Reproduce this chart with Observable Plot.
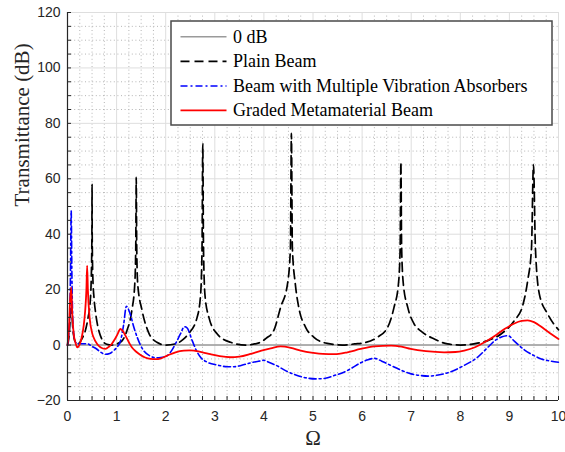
<!DOCTYPE html>
<html>
<head>
<meta charset="utf-8">
<script src="https://cdn.jsdelivr.net/npm/d3@7"></script>
<script src="https://cdn.jsdelivr.net/npm/@observablehq/plot@0.6"></script>
<style>
  html, body { margin: 0; padding: 0; background: white; }
  #chart { width: 565px; height: 452px; }
</style>
</head>
<body>
<div id="chart"></div>
<script>
// ---- Data ----
const xTicks = [0, 1, 2, 3, 4, 5, 6, 7, 8, 9, 10];
const yTicks = [-20, 0, 20, 40, 60, 80, 100, 120];
const seriesNames = ["0 dB", "Plain Beam", "Beam with Multiple Vibration Absorbers", "Graded Metamaterial Beam"];

const zeroOmega = [0, 10];
const zeroDb = [0, 0];

const plainOmega = [0, 0.03, 0.06, 0.075, 0.09, 0.12, 0.17, 0.22, 0.3, 0.36, 0.42, 0.46, 0.485, 0.497, 0.5, 0.503, 0.515, 0.54, 0.567, 0.62, 0.67, 0.73, 0.8, 0.9, 1.0, 1.11, 1.21, 1.31, 1.37, 1.39, 1.4, 1.41, 1.43, 1.52, 1.65, 1.82, 2.0, 2.23, 2.35, 2.47, 2.64, 2.71, 2.74, 2.755, 2.77, 2.8, 2.88, 3.05, 3.32, 3.63, 3.9, 4.05, 4.2, 4.34, 4.48, 4.54, 4.56, 4.58, 4.64, 4.71, 4.85, 5.02, 5.29, 5.6, 5.85, 6.04, 6.31, 6.52, 6.65, 6.74, 6.775, 6.79, 6.805, 6.84, 6.93, 7.06, 7.2, 7.47, 7.74, 8.01, 8.3, 8.56, 8.83, 9.1, 9.27, 9.37, 9.45, 9.49, 9.53, 9.61, 9.78, 10];
const plainDb = [0, 3, 12, 20, 12, 4, 0.8, 0.5, 2.5, 5, 10, 15, 25, 40, 58, 40, 25, 17, 12.4, 6.5, 3.4, 1.2, 0.3, 0, 0.4, 1.5, 5.2, 12.4, 22, 35, 60.5, 35, 22, 12.4, 4.6, 1, 0, 0.6, 2, 4.2, 10, 18, 35, 72.6, 35, 18, 10, 4, 1, 0, 0.8, 2.5, 5.2, 13.6, 22, 35, 76.4, 35, 22, 13.6, 6.4, 2.8, 0.6, 0, 0.4, 0.8, 2.8, 6.4, 13.6, 22, 35, 66, 35, 22, 13.6, 7.6, 5, 2.2, 0.4, 0, 0.5, 1.6, 4, 8.8, 14.2, 23, 35, 65, 35, 18.4, 11.2, 5.5];

const absorberOmega = [0, 0.04, 0.06, 0.075, 0.09, 0.11, 0.15, 0.2, 0.3, 0.4, 0.5, 0.6, 0.67, 0.77, 0.86, 0.94, 1.02, 1.08, 1.14, 1.2, 1.28, 1.35, 1.42, 1.55, 1.69, 1.8, 1.9, 2.03, 2.12, 2.2, 2.3, 2.38, 2.43, 2.54, 2.62, 2.71, 2.85, 3.05, 3.25, 3.39, 3.55, 3.73, 3.9, 4.0, 4.1, 4.27, 4.45, 4.65, 4.85, 5.05, 5.25, 5.43, 5.63, 5.8, 5.97, 6.1, 6.25, 6.4, 6.59, 6.8, 7.0, 7.2, 7.34, 7.55, 7.81, 8.05, 8.35, 8.55, 8.69, 8.85, 8.97, 9.1, 9.31, 9.5, 9.65, 9.85, 10];
const absorberDb = [0, 8, 25, 48.5, 25, 8, 1.5, 0.5, 0.5, 0.5, -0.5, -1.5, -2.5, -3.3, -3, -2, -0.5, 1.5, 7, 14, 11, 6.5, 2.8, -2, -4, -4.6, -4.5, -3.8, -2, 0.5, 4, 6.6, 6.3, 1.6, -1.8, -4.4, -6.2, -7.2, -7.8, -7.8, -7.3, -6.4, -5.8, -5.5, -6.2, -7.5, -9.3, -10.8, -11.8, -12.2, -12, -11, -9.8, -8.2, -6.4, -5.4, -4.8, -5.8, -7.4, -9.1, -10.4, -11, -11.2, -10.8, -9.6, -7.6, -4.4, -1, 1.4, 3, 3.4, 1.4, -1.8, -3.8, -5, -5.8, -6.2];

const gradedOmega = [0, 0.03, 0.055, 0.075, 0.095, 0.13, 0.16, 0.2, 0.25, 0.29, 0.33, 0.36, 0.385, 0.4, 0.415, 0.45, 0.5, 0.53, 0.6, 0.67, 0.77, 0.85, 0.9, 0.96, 1.01, 1.08, 1.13, 1.18, 1.25, 1.31, 1.4, 1.48, 1.58, 1.69, 1.8, 1.89, 2.03, 2.2, 2.37, 2.5, 2.6, 2.75, 2.91, 3.1, 3.32, 3.5, 3.73, 3.95, 4.14, 4.34, 4.55, 4.75, 5.0, 5.2, 5.43, 5.7, 5.97, 6.25, 6.59, 6.8, 6.99, 7.3, 7.67, 7.9, 8.08, 8.3, 8.49, 8.7, 8.9, 9.1, 9.25, 9.37, 9.5, 9.71, 9.85, 10];
const gradedDb = [0, 6, 17, 20.8, 12, 3.5, 1, -0.8, 0.3, 2.8, 7, 12.4, 20, 28.7, 20, 10, 4.5, 2.8, 0.5, -0.8, -1.4, -0.5, 0.4, 2, 3.6, 5.8, 5, 3.4, 1, -0.8, -2.4, -3.5, -4.5, -5, -5.1, -4.9, -3.8, -2.6, -2, -1.9, -2.1, -2.6, -3.3, -4, -4.4, -4.2, -3.2, -2, -1.2, -0.5, -1, -2, -2.8, -3.2, -3.3, -2.6, -1.4, -0.5, -0.2, -0.6, -1.4, -2.2, -2.6, -2.5, -2, -0.8, 1, 3.3, 5.8, 7.8, 8.7, 8.9, 8.3, 5.8, 4, 2.2];

// ---- Build tables ----
const toRows = (xs, ys) => xs.map((x, i) => ({x, y: ys[i]}));
const zeroRows = toRows(zeroOmega, zeroDb);
const plainRows = toRows(plainOmega, plainDb);
const absorberRows = toRows(absorberOmega, absorberDb);
const gradedRows = toRows(gradedOmega, gradedDb);

const xAll = d3.range(0, 10.001, 0.25);
const yAll = d3.range(-20, 120.001, 5);
const xMinor = xAll.filter(v => Math.abs(v - Math.round(v)) > 1e-9);
const yMinor = yAll.filter(v => v % 20 !== 0);

const styles = [
  {stroke: "#9a9a9a", strokeWidth: 1.6},
  {stroke: "#000000", strokeWidth: 1.7, strokeDasharray: "9,5"},
  {stroke: "#0000ff", strokeWidth: 1.6, strokeDasharray: "7,3,2,3"},
  {stroke: "#ff0000", strokeWidth: 1.8}
];

const axisColor = "#262626";
const serif = "'Liberation Serif', 'Times New Roman', serif";
const svg = Plot.plot({
  width: 565,
  height: 452,
  marginLeft: 67,
  marginRight: 7,
  marginTop: 12,
  marginBottom: 52,
  x: {domain: [0, 10], label: null},
  y: {domain: [-20, 120], label: null},
  style: {fontFamily: "'Liberation Sans', Arial, sans-serif", fontSize: "14px", color: axisColor, background: "white", overflow: "visible"},
  marks: [
    Plot.ruleX(xMinor, {stroke: "#b5b5b5", strokeDasharray: "1,2.6", strokeWidth: 1}),
    Plot.ruleY(yMinor, {stroke: "#b5b5b5", strokeDasharray: "1,2.6", strokeWidth: 1}),
    Plot.ruleX(xTicks, {stroke: "#dedede", strokeWidth: 1}),
    Plot.ruleY(yTicks, {stroke: "#dedede", strokeWidth: 1}),
    Plot.line(zeroRows, {x: "x", y: "y", ...styles[0]}),
    Plot.line(plainRows, {x: "x", y: "y", curve: "monotone-x", ...styles[1]}),
    Plot.line(absorberRows, {x: "x", y: "y", curve: "monotone-x", ...styles[2]}),
    Plot.line(gradedRows, {x: "x", y: "y", curve: "monotone-x", ...styles[3]}),
    Plot.axisX(xAll, {tickSize: 4, dy: -4, tickFormat: () => "", stroke: axisColor, label: null}),
    Plot.axisX(xTicks, {tickSize: 0, tickPadding: 11, fontSize: 14, fill: axisColor, label: null}),
    Plot.axisY(yAll, {tickSize: 4, dx: 4, tickFormat: () => "", stroke: axisColor, label: null}),
    Plot.axisY(yTicks, {tickSize: 0, tickPadding: 7, fontSize: 14, fill: axisColor, label: null}),
    Plot.ruleX([0], {stroke: axisColor, strokeWidth: 1.2}),
    Plot.ruleY([-20], {stroke: axisColor, strokeWidth: 1.2}),
    Plot.text(["Ω"], {frameAnchor: "bottom", dy: 44, fontSize: 21, fontFamily: serif, fill: axisColor}),
    Plot.text(["Transmittance (dB)"], {frameAnchor: "left", dx: -45, rotate: -90, fontSize: 21, fontFamily: serif, fill: axisColor})
  ]
});

// ---- Legend inside the plot (top right) ----
const g = d3.select(svg).append("g").attr("class", "legend").attr("text-anchor", "start");
g.append("rect")
  .attr("x", 171).attr("y", 21).attr("width", 381).attr("height", 104)
  .attr("fill", "white").attr("stroke", "#4a4a4a").attr("stroke-width", 1.5);
const rowY = [36.7, 61.3, 86, 110.3];
seriesNames.forEach((name, i) => {
  const s = styles[i];
  g.append("line")
    .attr("x1", 180.5).attr("x2", 226.5).attr("y1", rowY[i]).attr("y2", rowY[i])
    .attr("stroke", s.stroke).attr("stroke-width", s.strokeWidth)
    .attr("stroke-dasharray", s.strokeDasharray || null);
  g.append("text")
    .attr("x", 233).attr("y", rowY[i] + 6)
    .attr("text-anchor", "start")
    .attr("font-family", serif)
    .attr("font-size", 18).attr("fill", "#000")
    .text(name);
});

document.getElementById("chart").appendChild(svg);
</script>
</body>
</html>
